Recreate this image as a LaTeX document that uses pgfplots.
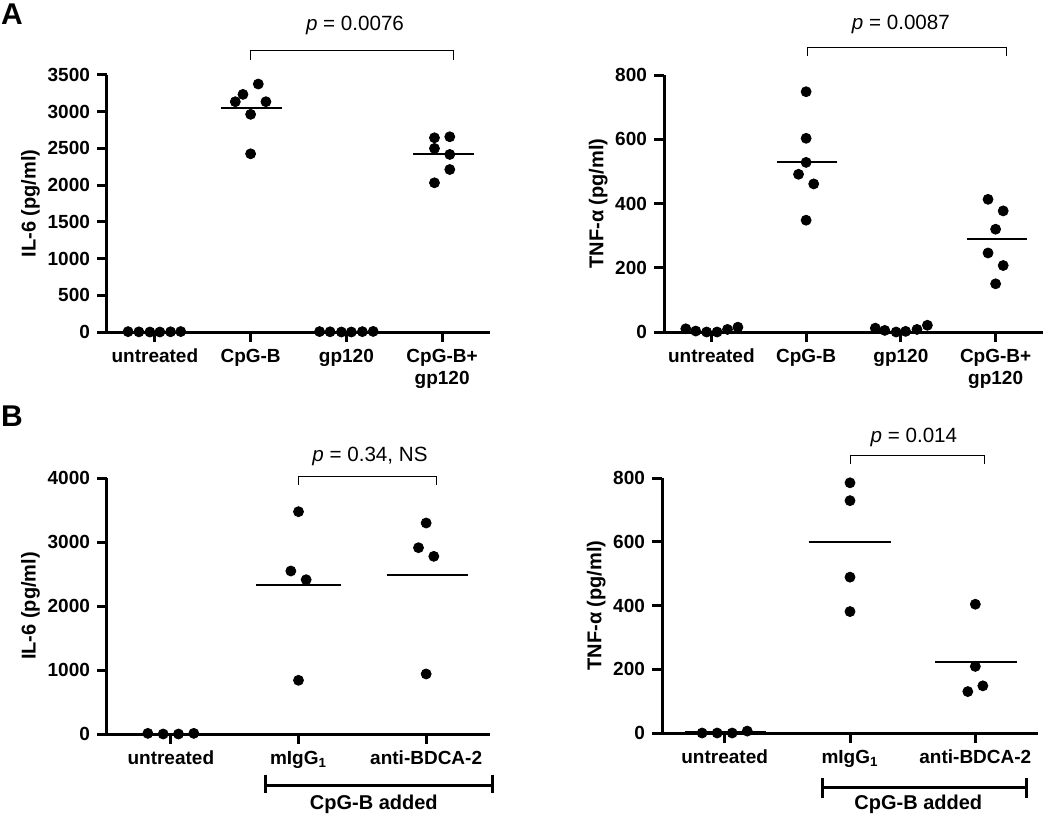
\documentclass[border=0pt]{standalone}
\usepackage{fontspec}
\setmainfont{Liberation Sans}
\usepackage{pgfplots}
\pgfplotsset{compat=1.18}
\pgfplotsset{
  panel/.style={
    scale only axis, axis lines=left,
    axis line style={-, line width=1.5pt},
    ymin=0, clip=false,
    tick style={black, line width=1.5pt}, major tick length=5pt, tick align=outside,
    tick label style={font=\bfseries\fontsize{9.5}{11}\selectfont},
    label style={font=\bfseries\fontsize{10}{12}\selectfont},
    ylabel shift=-3pt,
    /pgf/number format/assume math mode=true, /pgf/number format/1000 sep={},
    scaled y ticks=false,
    xticklabel style={align=center},
  },
  dots/.style={only marks, mark=*, mark size=2.5pt, black, mark options={fill=black}},
  med/.style={black, line width=1pt, no marks},
}
\newcommand{\pfont}{\fontsize{10.3}{12}\selectfont}
\begin{document}
\begin{tikzpicture}
\path[use as bounding box] (0pt,0pt) rectangle (525pt,408pt);
\node[font=\bfseries\fontsize{15}{17}\selectfont] at (6pt,401pt) {A};
\node[font=\bfseries\fontsize{15}{17}\selectfont] at (6pt,200pt) {B};

% ---------- A left: IL-6
\begin{axis}[panel, at={(53.5pt,242pt)}, anchor=south west, width=191.5pt, height=128.5pt,
  xmin=-0.5, xmax=3.5, ymax=3500, ytick={0,500,...,3500},
  xtick={0,1,2,3}, xticklabels={untreated, CpG-B, gp120, {CpG-B+\\gp120}},
  ylabel={IL-6 (pg/ml)}]
\addplot[dots] coordinates {(-0.28,5) (-0.167,2) (-0.052,0) (0.052,0) (0.164,3) (0.27,6)};
\addplot[dots] coordinates {(0.84,3136) (0.92,3236) (1.08,3377) (1.16,3136) (1,2964) (1,2427)};
\addplot[dots] coordinates {(1.72,6) (1.83,3) (1.948,0) (2.052,0) (2.167,5) (2.28,8)};
\addplot[dots] coordinates {(2.92,2645) (3.08,2659) (2.92,2500) (3.08,2418) (3.08,2213) (2.92,2032)};
\addplot[med] coordinates {(0.69,3050) (1.33,3050)};
\addplot[med] coordinates {(2.70,2418) (3.33,2418)};
\draw[line width=0.5pt] (axis cs:1,3704) |- (axis cs:3.12,3827) -- (axis cs:3.12,3704);
\node[font=\pfont] at (axis cs:2.09,4181) {\textit{p} = 0.0076};
\end{axis}

% ---------- A right: TNF
\begin{axis}[panel, at={(332pt,242pt)}, anchor=south west, width=189.5pt, height=128.5pt,
  xmin=-0.5, xmax=3.5, ymax=800, ytick={0,200,...,800},
  xtick={0,1,2,3}, xticklabels={untreated, CpG-B, gp120, {CpG-B+\\gp120}},
  ylabel={TNF-α (pg/ml)}]
\addplot[dots] coordinates {(-0.27,10) (-0.165,3) (-0.05,0) (0.06,0) (0.17,8) (0.28,15)};
\addplot[dots] coordinates {(1,748) (1,603) (1,528) (0.92,491) (1.08,461) (1,348)};
\addplot[dots] coordinates {(1.73,12) (1.83,5) (1.95,0) (2.05,2) (2.17,8) (2.28,21)};
\addplot[dots] coordinates {(2.92,413) (3.08,377) (3,320) (2.92,246) (3.08,207) (3,150)};
\addplot[med] coordinates {(0.69,529) (1.33,529)};
\addplot[med] coordinates {(2.70,288) (3.33,288)};
\draw[line width=0.5pt] (axis cs:1.01,859) |- (axis cs:3.12,887) -- (axis cs:3.12,859);
\node[font=\pfont] at (axis cs:2.0,956) {\textit{p} = 0.0087};
\end{axis}

% ---------- B left: IL-6
\begin{axis}[panel, at={(53.5pt,41pt)}, anchor=south west, width=191.5pt, height=128pt,
  xmin=-0.5, xmax=2.5, ymax=4000, ytick={0,1000,...,4000},
  xtick={0,1,2}, xticklabels={untreated, mIgG\textsubscript{1}, anti-BDCA-2},
  ylabel={IL-6 (pg/ml)}]
\addplot[dots] coordinates {(-0.18,10) (-0.06,0) (0.06,0) (0.18,10)};
\addplot[dots] coordinates {(1,3474) (0.94,2547) (1.06,2411) (1,839)};
\addplot[dots] coordinates {(2,3297) (1.94,2911) (2.06,2776) (2,938)};
\addplot[med] coordinates {(0.67,2323) (1.33,2323)};
\addplot[med] coordinates {(1.69,2490) (2.33,2490)};
\draw[line width=0.5pt] (axis cs:1,3896) |- (axis cs:2.08,4026) -- (axis cs:2.08,3896);
\node[font=\pfont] at (axis cs:1.56,4339) {\textit{p} = 0.34, NS};
\draw[line width=1.5pt] (axis cs:0.74,-635) -- (axis cs:0.74,-922);
\draw[line width=1.5pt] (axis cs:0.74,-802) -- (axis cs:2.52,-802);
\draw[line width=1.5pt] (axis cs:2.52,-635) -- (axis cs:2.52,-922);
\node[font=\bfseries\fontsize{10}{12}\selectfont] at (axis cs:1.59,-1104) {CpG-B added};
\end{axis}

% ---------- B right: TNF
\begin{axis}[panel, at={(331pt,41.5pt)}, anchor=south west, width=188pt, height=127.5pt,
  xmin=-0.5, xmax=2.5, ymax=800, ytick={0,200,...,800},
  xtick={0,1,2}, xticklabels={untreated, mIgG\textsubscript{1}, anti-BDCA-2},
  ylabel={TNF-α (pg/ml)}]
\addplot[dots] coordinates {(-0.18,0) (-0.06,0) (0.06,0) (0.18,6)};
\addplot[dots] coordinates {(1,785) (1,729) (1,489) (1,381)};
\addplot[dots] coordinates {(2,404) (2,209) (1.94,130) (2.06,148)};
\addplot[med] coordinates {(-0.32,2) (0.33,2)};
\addplot[med] coordinates {(0.67,600) (1.33,600)};
\addplot[med] coordinates {(1.68,223) (2.33,223)};
\draw[line width=0.5pt] (axis cs:1,845) |- (axis cs:2.07,871) -- (axis cs:2.07,845);
\node[font=\pfont] at (axis cs:1.51,928) {\textit{p} = 0.014};
\draw[line width=1.5pt] (axis cs:0.78,-141) -- (axis cs:0.78,-203);
\draw[line width=1.5pt] (axis cs:0.78,-172) -- (axis cs:2.41,-172);
\draw[line width=1.5pt] (axis cs:2.41,-141) -- (axis cs:2.41,-203);
\node[font=\bfseries\fontsize{10}{12}\selectfont] at (axis cs:1.545,-224) {CpG-B added};
\end{axis}
\end{tikzpicture}
\end{document}
